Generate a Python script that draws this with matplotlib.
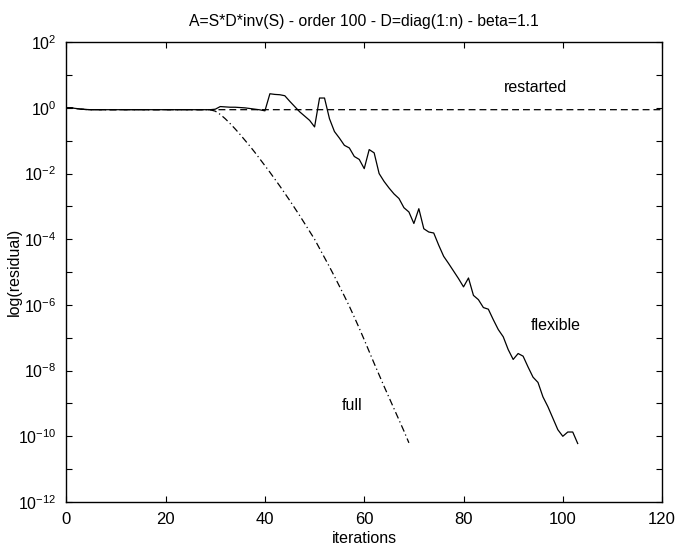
import numpy as np
import matplotlib
matplotlib.use("Agg")
import matplotlib.pyplot as plt
from matplotlib.ticker import FixedLocator, FuncFormatter

plt.rcParams['font.family'] = ['Liberation Sans', 'DejaVu Sans']
plt.rcParams['mathtext.fontset'] = 'custom'
plt.rcParams['mathtext.rm'] = 'Liberation Sans'
plt.rcParams['mathtext.it'] = 'Liberation Sans:italic'
plt.rcParams['mathtext.default'] = 'regular'

title = "A=S*D*inv(S) - order 100 - D=diag(1:n) - beta=1.1"

# log10 of residual, one value per iteration
restarted_log = [
    0.0, 0.0, -0.02, -0.04, -0.05, -0.055, -0.055, -0.055, -0.055, -0.055,
    -0.055, -0.055, -0.055, -0.055, -0.055, -0.055, -0.055, -0.055, -0.055, -0.055,
    -0.055, -0.055, -0.055, -0.055, -0.055, -0.055, -0.055, -0.055, -0.055, -0.055,
    -0.055, -0.055, -0.055, -0.055, -0.055, -0.055, -0.055, -0.055, -0.055, -0.055,
    -0.055, -0.055, -0.055, -0.055, -0.055, -0.055, -0.055, -0.055, -0.055, -0.055,
    -0.055, -0.055, -0.055, -0.055, -0.055, -0.055, -0.055, -0.055, -0.055, -0.055,
    -0.055, -0.055, -0.055, -0.055, -0.055, -0.055, -0.055, -0.055, -0.055, -0.055,
    -0.055, -0.055, -0.055, -0.055, -0.055, -0.055, -0.055, -0.055, -0.055, -0.055,
    -0.055, -0.055, -0.055, -0.055, -0.055, -0.055, -0.055, -0.055, -0.055, -0.055,
    -0.055, -0.055, -0.055, -0.055, -0.055, -0.055, -0.055, -0.055, -0.055, -0.055,
    -0.055, -0.055, -0.055, -0.055, -0.055, -0.055, -0.055, -0.055, -0.055, -0.055,
    -0.055, -0.055, -0.055, -0.055, -0.055, -0.055, -0.055, -0.055, -0.055, -0.055,
    -0.055,
]

full_log = [
    0.0, 0.0, -0.02, -0.04, -0.05, -0.055, -0.055, -0.055, -0.055, -0.055,
    -0.055, -0.055, -0.055, -0.055, -0.055, -0.055, -0.055, -0.055, -0.055, -0.055,
    -0.055, -0.055, -0.055, -0.055, -0.055, -0.055, -0.055, -0.055, -0.055, -0.06,
    -0.1, -0.2, -0.33, -0.48, -0.64, -0.81, -0.99, -1.17, -1.36, -1.56,
    -1.76, -1.96, -2.17, -2.38, -2.6, -2.82, -3.05, -3.28, -3.52, -3.76,
    -4.0, -4.28, -4.56, -4.84, -5.13, -5.43, -5.73, -6.04, -6.37, -6.71,
    -7.06, -7.42, -7.78, -8.13, -8.48, -8.82, -9.16, -9.5, -9.84, -10.2,
]

flexible_log = [
    0.0, 0.0, -0.02, -0.04, -0.05, -0.055, -0.055, -0.055, -0.055, -0.055,
    -0.055, -0.055, -0.055, -0.055, -0.055, -0.055, -0.055, -0.055, -0.055, -0.055,
    -0.055, -0.055, -0.055, -0.055, -0.055, -0.055, -0.055, -0.055, -0.055, -0.055,
    -0.04, 0.04, 0.03, 0.02, 0.02, 0.01, 0.0, -0.02, -0.04, -0.06,
    -0.09, 0.43, 0.41, 0.40, 0.37, 0.2, 0.04, -0.12, -0.25, -0.38,
    -0.58, 0.3, 0.3, -0.33, -0.72, -0.92, -1.14, -1.22, -1.48, -1.57,
    -1.85, -1.27, -1.37, -2.0, -2.24, -2.44, -2.62, -2.76, -3.04, -3.17,
    -3.52, -3.07, -3.68, -3.78, -3.81, -4.18, -4.52, -4.74, -4.97, -5.20,
    -5.45, -5.18, -5.71, -5.84, -6.08, -6.13, -6.45, -6.75, -6.97, -7.36,
    -7.66, -7.48, -7.56, -7.89, -8.2, -8.36, -8.8, -9.1, -9.45, -9.8,
    -10.0, -9.87, -9.87, -10.22,
]

labels = ["restarted", "flexible", "full"]
label_x = [94.5, 98.5, 57.6]
label_logy = [0.62, -6.62, -9.05]

x_ticks = [0, 20, 40, 60, 80, 100, 120]
y_decades = list(range(-12, 3))

fig = plt.figure(figsize=(6.77, 5.48), dpi=100)
ax = fig.add_axes([0.098, 0.084, 0.880, 0.839])

it_r = np.arange(len(restarted_log))
it_f = np.arange(len(full_log))
it_x = np.arange(len(flexible_log))

ax.semilogy(it_r, 10.0 ** np.array(restarted_log), color='black', lw=0.9,
            linestyle=(0, (5.5, 3.2)))
ax.semilogy(it_f, 10.0 ** np.array(full_log), color='black', lw=0.9,
            linestyle=(0, (5.5, 2.5, 1.0, 2.5)))
ax.semilogy(it_x, 10.0 ** np.array(flexible_log), color='black', lw=0.9)

for t, lx, ly in zip(labels, label_x, label_logy):
    ax.text(lx, 10.0 ** ly, t, ha='center', va='center', fontsize=11.5)

ax.set_xlim(0, 120)
ax.set_ylim(1e-12, 1e2)
ax.xaxis.set_major_locator(FixedLocator(x_ticks))
ax.yaxis.set_major_locator(FixedLocator([10.0 ** k for k in y_decades]))
ax.yaxis.set_minor_locator(FixedLocator([]))


def yfmt(v, pos):
    k = int(round(np.log10(v)))
    return r'$10^{%d}$' % k if k % 2 == 0 else ''


ax.yaxis.set_major_formatter(FuncFormatter(yfmt))
ax.tick_params(axis='both', which='both', direction='in', top=True, right=True,
               length=4.5, width=0.8, labelsize=12)
ax.tick_params(axis='x', pad=7)
ax.tick_params(axis='y', pad=7, labelsize=11.5)
for s in ax.spines.values():
    s.set_linewidth(1.0)

ax.set_title(title, fontsize=11.3, pad=12)
ax.set_xlabel("iterations", fontsize=11.5, labelpad=3)
ax.set_ylabel("log(residual)", fontsize=11.5)
ax.yaxis.set_label_coords(-0.075, 0.5)

fig.savefig("out.png", dpi=100)
